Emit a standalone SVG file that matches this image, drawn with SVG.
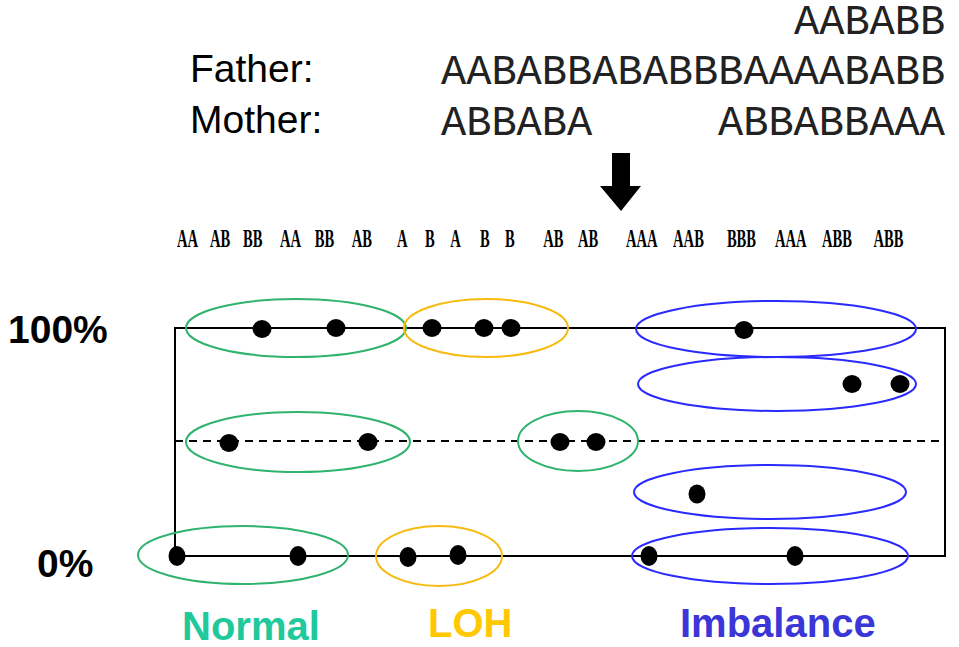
<svg xmlns="http://www.w3.org/2000/svg" width="959" height="647" viewBox="0 0 959 647">
<style>
.lab{font-family:"Liberation Sans",Arial,sans-serif;font-size:39px;fill:#000}
.seq{font-family:"Liberation Mono","Courier New",monospace;font-size:42px;fill:#222}
.gt{font-family:"Liberation Serif","Times New Roman",serif;font-size:26px;font-weight:bold;fill:#000}
.pct{font-family:"Liberation Sans",Arial,sans-serif;font-size:39px;font-weight:bold;fill:#000}
.cat{font-family:"Liberation Sans",Arial,sans-serif;font-size:40px;font-weight:bold}
.frame{stroke:#000;stroke-width:2;fill:none}
.green{fill:none;stroke:#2fb36e;stroke-width:2}
.yellow{fill:none;stroke:#f7bb10;stroke-width:2}
.blue{fill:none;stroke:#2a2aff;stroke-width:2}
.dot{fill:#000}
</style>
<rect width="959" height="647" fill="#fff"/>
<g id="header">
<text class="seq" x="794" y="34">AABABB</text>
<text class="lab" x="190" y="82">Father:</text>
<text class="seq" x="441" y="84">AABABBABABBBAAAABABB</text>
<text class="lab" x="190" y="133">Mother:</text>
<text class="seq" x="441" y="135">ABBABA</text>
<text class="seq" x="718" y="135">ABBABBAAA</text>
</g>
<g id="arrow">
<polygon points="612,153 630,153 630,186 641,186 621,211 600,186 612,186" fill="#000"/>
</g>
<g id="genotypes" transform="scale(0.56,1)">
<text class="gt" x="316" y="247">AA</text>
<text class="gt" x="375" y="247">AB</text>
<text class="gt" x="434" y="247">BB</text>
<text class="gt" x="500" y="247">AA</text>
<text class="gt" x="562" y="247">BB</text>
<text class="gt" x="628" y="247">AB</text>
<text class="gt" x="709" y="247">A</text>
<text class="gt" x="759" y="247">B</text>
<text class="gt" x="804" y="247">A</text>
<text class="gt" x="857" y="247">B</text>
<text class="gt" x="902" y="247">B</text>
<text class="gt" x="970" y="247">AB</text>
<text class="gt" x="1032" y="247">AB</text>
<text class="gt" x="1118" y="247">AAA</text>
<text class="gt" x="1202" y="247">AAB</text>
<text class="gt" x="1298" y="247">BBB</text>
<text class="gt" x="1384" y="247">AAA</text>
<text class="gt" x="1468" y="247">ABB</text>
<text class="gt" x="1560" y="247">ABB</text>
</g>
<g id="axes">
<text class="pct" x="8" y="343">100%</text>
<text class="pct" x="37" y="577">0%</text>
<polyline class="frame" points="175,556 175,328 945,328 945,556 175,556"/>
<line x1="175" y1="441" x2="945" y2="441" stroke="#000" stroke-width="2" stroke-dasharray="8,6"/>
</g>
<g id="normal">
<ellipse class="green" cx="296" cy="328" rx="110" ry="29"/>
<ellipse class="green" cx="298" cy="442" rx="112" ry="30"/>
<ellipse class="green" cx="243" cy="555" rx="105" ry="29"/>
<ellipse class="green" cx="578" cy="441" rx="60" ry="30"/>
<text class="cat" x="182" y="640" fill="#1fc99b">Normal</text>
</g>
<g id="loh">
<ellipse class="yellow" cx="486" cy="328" rx="82" ry="29"/>
<ellipse class="yellow" cx="439" cy="556" rx="63" ry="30"/>
<text class="cat" x="428" y="637" fill="#ffc800">LOH</text>
</g>
<g id="imbalance">
<ellipse class="blue" cx="776" cy="329" rx="140" ry="28"/>
<ellipse class="blue" cx="777" cy="384" rx="139" ry="27"/>
<ellipse class="blue" cx="770" cy="492" rx="136" ry="27"/>
<ellipse class="blue" cx="770" cy="556" rx="138" ry="28"/>
<text class="cat" x="680" y="637" fill="#3b36d8" font-size="41">Imbalance</text>
</g>
<g id="dots">
<ellipse class="dot" cx="262" cy="329" rx="9.5" ry="9"/>
<ellipse class="dot" cx="336" cy="328" rx="9.5" ry="9"/>
<ellipse class="dot" cx="432" cy="328" rx="9.5" ry="9"/>
<ellipse class="dot" cx="484" cy="328" rx="9.5" ry="9"/>
<ellipse class="dot" cx="511" cy="328" rx="9.5" ry="9"/>
<ellipse class="dot" cx="744" cy="330" rx="9.5" ry="9"/>
<ellipse class="dot" cx="852" cy="384" rx="9.5" ry="9"/>
<ellipse class="dot" cx="900" cy="384" rx="9.5" ry="9"/>
<ellipse class="dot" cx="229" cy="443" rx="9.5" ry="9"/>
<ellipse class="dot" cx="368" cy="442" rx="9.5" ry="9"/>
<ellipse class="dot" cx="560" cy="442" rx="9.5" ry="9"/>
<ellipse class="dot" cx="596" cy="442" rx="9.5" ry="9"/>
<ellipse class="dot" cx="697" cy="494" rx="8.5" ry="9.5"/>
<ellipse class="dot" cx="177" cy="556" rx="8.5" ry="10"/>
<ellipse class="dot" cx="298" cy="556" rx="8.5" ry="10"/>
<ellipse class="dot" cx="408" cy="557" rx="8.5" ry="10"/>
<ellipse class="dot" cx="458" cy="555" rx="8.5" ry="10"/>
<ellipse class="dot" cx="649" cy="556" rx="8.5" ry="10"/>
<ellipse class="dot" cx="795" cy="556" rx="8.5" ry="10"/>
</g>
</svg>
